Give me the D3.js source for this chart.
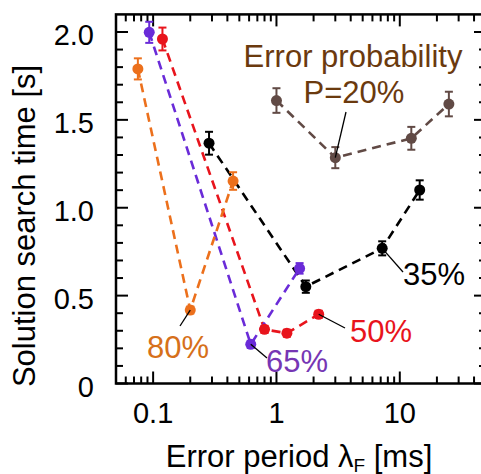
<!DOCTYPE html>
<html>
<head>
<meta charset="utf-8">
<script src="https://cdn.jsdelivr.net/npm/d3@7"></script>
<style>
  body { margin: 0; background: #fff; }
  svg { display: block; overflow: hidden; }
  text { font-family: "Liberation Sans", Arial, sans-serif; }
</style>
</head>
<body>
<script>
// error period (ms), search time (s), error bar half-height (s)
var p20x = [1.0, 3.0, 12.4, 25];
var p20y = [1.61, 1.285, 1.395, 1.59];
var p20e = [0.07, 0.06, 0.065, 0.07];

var p35x = [0.284, 1.73, 7.2, 14.5];
var p35y = [1.367, 0.551, 0.769, 1.101];
var p35e = [0.065, 0.035, 0.04, 0.055];

var p50x = [0.119, 0.8, 1.215, 2.2];
var p50y = [1.96, 0.308, 0.286, 0.394];
var p50e = [0.065, 0.02, 0.02, 0.02];

var p65x = [0.093, 0.619, 1.54];
var p65y = [1.998, 0.223, 0.655];
var p65e = [0.06, 0.02, 0.03];

var p80x = [0.0752, 0.2, 0.445];
var p80y = [1.79, 0.418, 1.152];
var p80e = [0.06, 0.02, 0.05];

var yTicks = [0, 0.5, 1.0, 1.5, 2.0];
var yTickLabels = ["0", "0.5", "1.0", "1.5", "2.0"];
var xTicks = [0.1, 1, 10];
var xTickLabels = ["0.1", "1", "10"];

var W = 481, H = 474;
var svg = d3.select("body").append("svg").attr("width", W).attr("height", H);

var x = d3.scaleLog().domain([0.05, 50]).range([116, 486]);
var y = d3.scaleLinear().domain([0, 2.1]).range([383.5, 14.4]);

var series = [
  {x: p20x, y: p20y, e: p20e, col: "#614a45"},
  {x: p35x, y: p35y, e: p35e, col: "#000000"},
  {x: p50x, y: p50y, e: p50e, col: "#e8141c"},
  {x: p65x, y: p65y, e: p65e, col: "#6a2bd8"},
  {x: p80x, y: p80y, e: p80e, col: "#ec701c"}
];

// minor ticks
var minorX = [];
for (var d = -2; d <= 1; d++) {
  for (var m = 2; m <= 9; m++) {
    var v = m * Math.pow(10, d);
    if (v > 0.05 && v < 50) minorX.push(v);
  }
}
var minorY = d3.range(1, 21).map(function(i){ return i / 10; }).filter(function(v){ return Math.round(v*10) % 5 != 0; });

var axisG = svg.append("g").attr("stroke", "#000");

// x ticks, bottom and top
axisG.selectAll(".xminb").data(minorX).enter().append("line")
  .attr("x1", function(v){ return x(v); }).attr("x2", function(v){ return x(v); })
  .attr("y1", y(0)).attr("y2", y(0) - 7).attr("stroke-width", 2);
axisG.selectAll(".xmint").data(minorX).enter().append("line")
  .attr("x1", function(v){ return x(v); }).attr("x2", function(v){ return x(v); })
  .attr("y1", y(2.1)).attr("y2", y(2.1) + 7).attr("stroke-width", 2);
axisG.selectAll(".xmajb").data(xTicks).enter().append("line")
  .attr("x1", function(v){ return x(v); }).attr("x2", function(v){ return x(v); })
  .attr("y1", y(0)).attr("y2", y(0) - 12).attr("stroke-width", 2);
axisG.selectAll(".xmajt").data(xTicks).enter().append("line")
  .attr("x1", function(v){ return x(v); }).attr("x2", function(v){ return x(v); })
  .attr("y1", y(2.1)).attr("y2", y(2.1) + 12).attr("stroke-width", 2);

// y ticks, left and right
axisG.selectAll(".yminl").data(minorY).enter().append("line")
  .attr("y1", function(v){ return y(v); }).attr("y2", function(v){ return y(v); })
  .attr("x1", x(0.05)).attr("x2", x(0.05) + 7).attr("stroke-width", 2);
axisG.selectAll(".yminr").data(minorY).enter().append("line")
  .attr("y1", function(v){ return y(v); }).attr("y2", function(v){ return y(v); })
  .attr("x1", x(50)).attr("x2", x(50) - 7).attr("stroke-width", 2);
axisG.selectAll(".ymajl").data(yTicks).enter().append("line")
  .attr("y1", function(v){ return y(v); }).attr("y2", function(v){ return y(v); })
  .attr("x1", x(0.05)).attr("x2", x(0.05) + 12).attr("stroke-width", 2);
axisG.selectAll(".ymajr").data(yTicks).enter().append("line")
  .attr("y1", function(v){ return y(v); }).attr("y2", function(v){ return y(v); })
  .attr("x1", x(50)).attr("x2", x(50) - 12).attr("stroke-width", 2);

// frame
axisG.append("rect")
  .attr("x", x(0.05)).attr("y", y(2.1))
  .attr("width", x(50) - x(0.05)).attr("height", y(0) - y(2.1))
  .attr("fill", "none").attr("stroke-width", 2.5);

// tick labels
svg.selectAll(".ylab").data(yTicks).enter().append("text")
  .attr("x", 94).attr("y", function(v){ return y(v) + 13; })
  .attr("text-anchor", "end").attr("font-size", 29)
  .text(function(v, i){ return yTickLabels[i]; });
svg.selectAll(".xlab").data(xTicks).enter().append("text")
  .attr("x", function(v){ return x(v); }).attr("y", 423)
  .attr("text-anchor", "middle").attr("font-size", 29)
  .text(function(v, i){ return xTickLabels[i]; });

// axis titles
var xt = svg.append("text").attr("x", 299).attr("y", 467)
  .attr("text-anchor", "middle").attr("font-size", 31);
xt.append("tspan").text("Error period λ");
xt.append("tspan").attr("font-size", 19).attr("dy", 5).text("F");
xt.append("tspan").attr("dy", -5).text(" [ms]");

svg.append("text")
  .attr("transform", "translate(35,226) rotate(-90)")
  .attr("text-anchor", "middle").attr("font-size", 31)
  .text("Solution search time [s]");

// dashed lines
var line = d3.line().x(function(d){ return x(d[0]); }).y(function(d){ return y(d[1]); });
series.forEach(function(s){
  var pts = s.x.map(function(v, i){ return [v, s.y[i]]; });
  svg.append("path").datum(pts).attr("d", line)
    .attr("fill", "none").attr("stroke", s.col)
    .attr("stroke-width", 2.6).attr("stroke-dasharray", "9,6");
});

// error bars and markers
series.forEach(function(s){
  var g = svg.append("g").attr("stroke", s.col).attr("fill", s.col);
  s.x.forEach(function(v, i){
    var cx = x(v), top = y(s.y[i] + s.e[i]), bot = y(s.y[i] - s.e[i]);
    g.append("line").attr("x1", cx).attr("x2", cx).attr("y1", top).attr("y2", bot).attr("stroke-width", 2);
    g.append("line").attr("x1", cx - 4).attr("x2", cx + 4).attr("y1", top).attr("y2", top).attr("stroke-width", 2);
    g.append("line").attr("x1", cx - 4).attr("x2", cx + 4).attr("y1", bot).attr("y2", bot).attr("stroke-width", 2);
    g.append("circle").attr("cx", cx).attr("cy", y(s.y[i])).attr("r", 5.5).attr("stroke", "none");
  });
});

// annotations with leader lines
var leaders = [
  [346, 112, x(3.0), y(1.285)],
  [403, 272, x(7.2), y(0.769)],
  [345, 328, x(2.2), y(0.394)],
  [267, 358, x(0.619), y(0.223)],
  [180, 326, x(0.2), y(0.418)]
];
svg.selectAll(".lead").data(leaders).enter().append("line")
  .attr("x1", function(d){ return d[0]; }).attr("y1", function(d){ return d[1]; })
  .attr("x2", function(d){ return d[2]; }).attr("y2", function(d){ return d[3]; })
  .attr("stroke", "#000").attr("stroke-width", 1.3);

var labels = [
  {t: "Error probability", x: 353, y: 67, c: "#6b3a0e", a: "middle"},
  {t: "P=20%", x: 354, y: 103, c: "#6b3a0e", a: "middle"},
  {t: "35%", x: 403, y: 285, c: "#000", a: "start"},
  {t: "50%", x: 350, y: 342, c: "#e8141c", a: "start"},
  {t: "65%", x: 266, y: 372, c: "#7636b4", a: "start"},
  {t: "80%", x: 147, y: 358, c: "#d6701a", a: "start"}
];
svg.selectAll(".ann").data(labels).enter().append("text")
  .attr("x", function(d){ return d.x; }).attr("y", function(d){ return d.y; })
  .attr("text-anchor", function(d){ return d.a; })
  .attr("fill", function(d){ return d.c; }).attr("font-size", 31)
  .text(function(d){ return d.t; });
</script>
</body>
</html>
